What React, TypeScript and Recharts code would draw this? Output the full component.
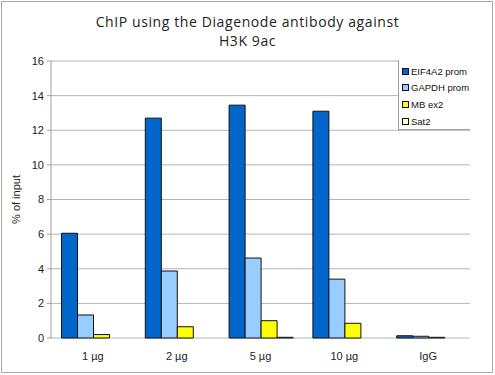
import React from "react";
import { BarChart, Bar, XAxis, YAxis, CartesianGrid } from "recharts";

const categories = ["1 µg", "2 µg", "5 µg", "10 µg", "IgG"];
const eif4a2 = [6.05, 12.7, 13.45, 13.1, 0.13];
const gapdh = [1.33, 3.87, 4.62, 3.4, 0.1];
const mbEx2 = [0.2, 0.65, 1.0, 0.85, 0.04];
const sat2 = [0.0, 0.0, 0.04, 0.0, 0.0];
const yTicks = [0, 2, 4, 6, 8, 10, 12, 14, 16];
const boundaryTicks = [0, 1, 2, 3, 4, 5];

const seriesNames = ["EIF4A2 prom", "GAPDH prom", "MB ex2", "Sat2"];
const seriesColors = ["#0066CC", "#99CCFF", "#FFFF00", "#FFFFCC"];

const data = categories.map((c, i) => ({
  name: c,
  s0: eif4a2[i],
  s1: gapdh[i],
  s2: mbEx2[i],
  s3: sat2[i],
}));

const font = "'Liberation Sans', Arial, sans-serif";

export default function App() {
  return (
    <div
      style={{
        position: "absolute",
        left: 0,
        top: 0,
        width: 495,
        height: 375,
        background: "#fff",
      }}
    >
      <div
        style={{
          position: "absolute",
          left: 1,
          top: 1,
          width: 492,
          height: 372,
          border: "1px solid #a8a8a8",
          boxSizing: "border-box",
        }}
      />
      <div
        style={{
          position: "absolute",
          left: 0,
          top: 12,
          width: 495,
          textAlign: "center",
          fontFamily: "'Open Sans', sans-serif",
          fontSize: 14,
          letterSpacing: 0.6,
          lineHeight: "19px",
          color: "#222",
        }}
      >
        ChIP using the Diagenode antibody against
        <br />
        H3K 9ac
      </div>
      <BarChart
        width={495}
        height={375}
        data={data}
        margin={{ top: 61, right: 25, bottom: 7, left: 0 }}
        barCategoryGap={10.5}
        barGap={0}
        style={{ position: "absolute", left: 0, top: 0 }}
      >
        <CartesianGrid vertical={false} stroke="#b4b4b4" />
        <XAxis
          xAxisId="b"
          type="number"
          domain={[0, 5]}
          ticks={boundaryTicks}
          tick={false}
          height={0}
          tickSize={4}
          stroke="#a0a0a0"
          axisLine={{ stroke: "#a0a0a0" }}
        />
        <XAxis
          dataKey="name"
          height={30}
          tickLine={false}
          axisLine={false}
          tickMargin={8}
          tick={{ fill: "#222", fontSize: 11, fontFamily: font }}
          interval={0}
        />
        <YAxis
          domain={[0, 16]}
          ticks={yTicks}
          width={51}
          tickSize={4}
          tickMargin={3}
          stroke="#a0a0a0"
          tick={{ fill: "#222", fontSize: 11, fontFamily: font }}
          label={{
            value: "% of input",
            angle: -90,
            position: "insideLeft",
            offset: 16,
            style: { fill: "#222", fontSize: 11, fontFamily: font, textAnchor: "middle" },
          }}
          interval={0}
        />
        <YAxis
          yAxisId="r"
          orientation="right"
          domain={[0, 16]}
          width={0}
          tick={false}
          tickLine={false}
          stroke="#a0a0a0"
        />
        {["s0", "s1", "s2", "s3"].map((k, i) => (
          <Bar
            key={k}
            dataKey={k}
            fill={seriesColors[i]}
            stroke="#111"
            strokeWidth={1}
            isAnimationActive={false}
          />
        ))}
      </BarChart>
      <div
        style={{
          position: "absolute",
          left: 398,
          top: 60,
          width: 72,
          height: 70,
          border: "1px solid #a0a0a0",
          borderTop: "none",
          borderRight: "none",
          boxSizing: "border-box",
          background: "#fff",
          fontFamily: font,
          fontSize: 9.5,
          color: "#111",
        }}
      >
        {seriesNames.map((n, i) => (
          <div
            key={n}
            style={{
              position: "absolute",
              left: 3,
              top: 5 + i * 16.7,
              height: 12,
              display: "flex",
              alignItems: "center",
              whiteSpace: "nowrap",
            }}
          >
            <span
              style={{
                display: "inline-block",
                width: 5,
                height: 5,
                background: seriesColors[i],
                border: "1px solid #111",
                marginRight: 2,
              }}
            />
            {n}
          </div>
        ))}
      </div>
    </div>
  );
}
